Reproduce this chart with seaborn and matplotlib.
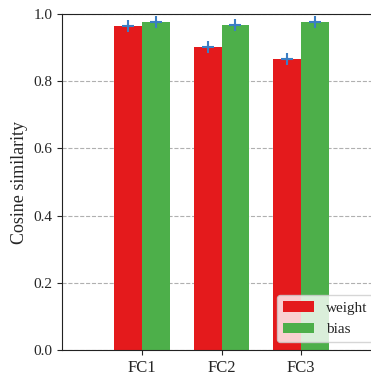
import matplotlib
matplotlib.use("Agg")
import matplotlib.pyplot as plt
import seaborn as sns
import pandas as pd
import numpy as np

layers = ["FC1", "FC2", "FC3"]
weight = [0.964, 0.902, 0.866]
bias = [0.976, 0.967, 0.976]
weight_err = [0.006, 0.006, 0.006]
bias_err = [0.006, 0.006, 0.006]
series = ["weight", "bias"]
yticks = [0.0, 0.2, 0.4, 0.6, 0.8, 1.0]

sns.set_style("ticks")
plt.rcParams['font.family'] = ['Liberation Serif', 'DejaVu Serif']

df = pd.DataFrame({
    "layer": layers * 2,
    "value": weight + bias,
    "kind": ["weight"] * 3 + ["bias"] * 3,
})

fig = plt.figure(figsize=(3.71, 3.77), dpi=100)
ax = fig.add_axes([62 / 371, 27 / 377, (381 - 62) / 371, 336 / 377])
ax.yaxis.grid(True, linestyle='--', color='#b0b0b0', linewidth=0.8)
ax.set_axisbelow(True)
sns.barplot(data=df, x="layer", y="value", hue="kind", hue_order=series,
            palette=["#e41a1c", "#4daf4a"], width=0.7, errorbar=None,
            saturation=1, linewidth=0, edgecolor="none", ax=ax)
x = np.arange(len(layers))
for xs, vals, errs in [(x - 0.175, weight, weight_err), (x + 0.175, bias, bias_err)]:
    ax.errorbar(xs, vals, yerr=errs, fmt='none', ecolor='#3b7ec4',
                elinewidth=1.5, capsize=0, zorder=5)
    ax.plot(xs, vals, linestyle='none', marker='+', color='#3b7ec4',
            markersize=8.5, markeredgewidth=1.5, zorder=6)
ax.set_xlim(-1, 3)
ax.set_ylim(0, 1.0)
ax.set_yticks(yticks)
ax.set_yticklabels([f"{t:.1f}" for t in yticks], fontsize=11)
ax.tick_params(axis='x', labelsize=12)
ax.set_xlabel("")
ax.set_ylabel("Cosine similarity", fontsize=13)
for s in ax.spines.values():
    s.set_color('#222222')
ax.legend(loc="lower right", fontsize=11, title=None, handlelength=2.0)
fig.savefig("out.png", dpi=100)
